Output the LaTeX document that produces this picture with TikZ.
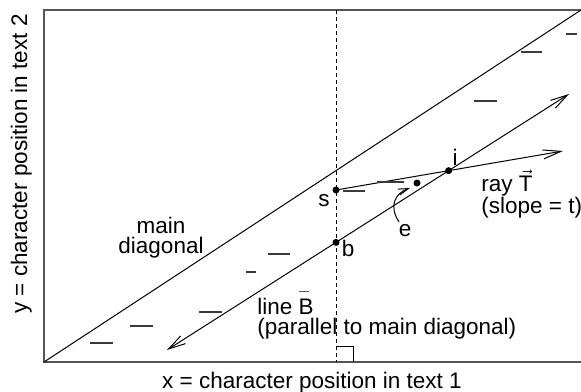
\documentclass[tikz,border=0pt]{standalone}
\usepackage{fontspec}
\setmainfont{Liberation Sans}
\usepackage{xcolor}
\usetikzlibrary{arrows.meta}
\definecolor{plotgray}{HTML}{555555}
\definecolor{matchgray}{HTML}{3A3A3A}
\tikzset{
  frameline/.style={line width=0.8pt,draw=plotgray},
  thinline/.style={line width=0.5pt,draw=black},
  guide/.style={thinline,dash pattern=on 2pt off 1.5pt},
  barbs/.style={{Straight Barb[length=8.5pt,width=4.5pt]}-{Straight Barb[length=8.5pt,width=4.5pt]}},
  barbend/.style={-{Straight Barb[length=9pt,width=4.5pt]}},
  smallbarb/.style={-{Straight Barb[length=5pt,width=3pt]}},
  match/.style={line width=0.6pt,draw=matchgray},
  dot/.style={fill=black},
  lbl/.style={font=\fontsize{11.25}{10}\selectfont,inner sep=0pt}
}
\newcommand{\barredB}{\leavevmode\rlap{\raisebox{0.98em}{\color{plotgray}\rule{5pt}{0.5pt}}}B}

\begin{document}
\begin{tikzpicture}[x=0.5pt,y=-0.5pt]
  \useasboundingbox (0,0) rectangle (581,391);
  % frame of the dot plot
  \coordinate (origin) at (44,362);
  \coordinate (topleft) at (44,10);
  \coordinate (topright) at (581,10);
  \coordinate (botright) at (581,362);
  \draw[frameline] (topright) -- (topleft) -- (origin) -- (botright);
  \draw[thinline] (origin) -- (topright);
  % vertical through the start point
  \coordinate (guidetop) at (336,10);
  \coordinate (guidebot) at (336,362);
  \draw[guide] (guidetop) -- (guidebot);
  % line B and ray T
  \coordinate (Blo) at (167,350);
  \coordinate (Bhi) at (569,94);
  \coordinate (s) at (336,190);
  \coordinate (Ttip) at (563,151);
  \coordinate (e) at (417,183);
  \coordinate (i) at (intersection of s--Ttip and Blo--Bhi);
  \coordinate (b) at (intersection of guidetop--guidebot and Blo--Bhi);
  \draw[thinline,barbs] (Blo) -- (Bhi);
  \draw[thinline,barbend] (s) -- (Ttip);
  % matches
  \foreach \xa/\xb/\yy in {566/577/34,521/542/52,474/497/101,343/365/191,377/404/182,
                           268/290/254,246/256/272,199/222/312,130/153/326,90/113/343}
    \draw[match] (\xa,\yy) -- (\xb,\yy);
  % right angle at the foot of the guide
  \coordinate (corner) at (353,346);
  \draw[thinline] (guidebot |- corner) -- (corner) -- (corner |- guidebot);
  % points
  \foreach \p in {s,b,i,e}
    \fill[dot] (\p) circle[radius=3.5];
  % pointer to e
  \coordinate (etail) at (399,222);
  \coordinate (ehead) at (410,188);
  \draw[thinline,smallbarb] (etail) .. controls (388,205) and (396,193) .. (ehead);
  % labels
  \node[lbl] (slbl) at (324,201) {s};
  \node[lbl] (blbl) at (348,248) {b};
  \node[lbl] (ilbl) at (455,157) {i};
  \node[lbl] (elbl) at (405,231) {e};
  \node[lbl,font=\fontsize{11.25}{11}\selectfont,align=left,anchor=north west] (raylbl) at (481,169) {ray $\vec{\mbox{T}}$\\(slope = t)};
  \node[lbl,align=center] (diaglbl) at (161,238) {main\\diagonal};
  \node[lbl,align=left,anchor=north west] (linelbl) at (257,291) {line \barredB\\(parallel to main diagonal)};
  \node[lbl,anchor=base] (xlbl) at (312,388) {x = character position in text 1};
  \node[lbl,anchor=base,rotate=90] (ylbl) at (27,164) {y = character position in text 2};
\end{tikzpicture}
\end{document}
